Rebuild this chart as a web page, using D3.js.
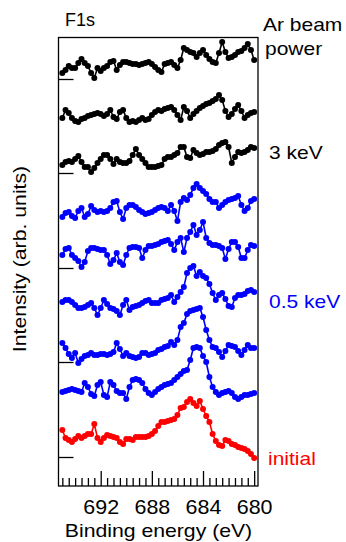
<!DOCTYPE html>
<html>
<head>
<meta charset="utf-8">
<script src="https://cdn.jsdelivr.net/npm/d3@7"></script>
<style>
  body { margin: 0; background: #fff; }
  text { font-family: "Liberation Sans", Arial, sans-serif; }
</style>
</head>
<body>
<div id="chart"></div>
<script>
var W = 346, H = 542;
var margin = {top: 37.5, right: 88, bottom: 56, left: 58.5};

/* energies sampled every 0.25 eV, high to low */
var energies = d3.range(61).map(function(i) { return 695 - i * 0.25; });

/* stacked intensities (arb. units, offsets included), top trace first */
var ar3a = [413,416,420,418,418,423,427,423,420,413,408,418,415,418,420,424,425,416,421,424,424,423,422,422,421,422,423,424,422,419,416,414,422,423,424,421,418,426,438,436,434,433,429,433,436,431,427,424,423,433,444,434,428,429,431,434,435,438,442,436,426];
var ar3b = [368,376,373,368,365,364,367,368,370,371,372,373,372,370,372,376,369,367,374,376,368,364,365,364,366,368,366,367,371,374,376,375,377,378,379,376,371,366,379,375,368,372,375,378,380,382,383,385,387,391,386,375,369,372,377,381,375,368,371,373,374];
var ar3c = [321,324,325,324,327,330,324,319,319,314,318,323,327,331,331,327,322,327,324,323,323,325,331,337,331,327,323,319,319,319,320,321,327,329,329,331,333,339,339,329,328,336,333,331,332,334,334,335,337,341,343,344,339,323,329,334,333,334,336,339,338];
var ar05a = [269,273,274,270,268,275,278,269,272,280,276,274,275,274,275,278,284,285,274,267,278,281,281,279,276,274,272,273,274,276,278,279,278,275,281,275,265,284,288,286,291,298,302,298,295,292,287,284,284,278,281,284,286,287,288,290,281,275,278,285,287];
var ar05b = [231,237,238,231,228,225,219,224,235,238,238,237,236,236,231,222,226,233,224,221,231,238,239,239,238,228,236,240,240,241,242,244,245,246,242,236,244,248,234,248,254,261,251,256,264,248,243,241,241,240,238,227,237,244,244,239,228,228,236,241,240];
var ar05c = [184,186,186,184,181,178,178,179,181,183,178,171,178,186,182,178,177,175,171,181,186,176,179,180,181,183,185,186,183,183,183,186,187,188,191,184,189,194,199,213,218,220,210,214,210,208,202,193,186,191,193,187,180,179,188,191,191,192,195,196,194];
var ar05d = [143,138,132,128,133,123,127,130,131,133,131,131,132,132,131,132,134,143,137,130,133,130,129,128,129,133,133,131,132,133,136,137,139,140,144,141,146,159,163,172,175,176,177,178,169,156,146,139,138,134,129,135,141,140,139,135,131,136,141,138,138];
var ar05e = [94,95,96,97,96,95,94,103,99,92,90,101,104,91,89,104,101,95,93,93,87,99,106,107,106,103,97,93,91,94,97,99,101,102,103,106,109,112,115,116,126,138,139,138,130,124,109,99,94,91,93,94,95,93,89,87,89,91,91,92,93];
var initial = [56,48,46,44,47,50,48,50,52,52,62,48,44,48,51,50,49,48,44,42,47,47,46,49,49,49,49,50,52,55,60,64,64,65,66,67,71,78,79,84,87,83,80,85,77,70,64,52,45,41,40,46,45,42,41,39,38,37,35,32,28];

var series = [ar3a, ar3b, ar3c, ar05a, ar05b, ar05c, ar05d, ar05e, initial];
var seriesColors = ["#000","#000","#000","#0000ff","#0000ff","#0000ff","#0000ff","#0000ff","#ff0000"];

var yTicks = [29, 124, 218, 313, 407];
var xMajor = [692, 688, 684, 680];

var width = W - margin.left - margin.right,
    height = H - margin.top - margin.bottom;

var svg = d3.select("#chart").append("svg").attr("width", W).attr("height", H);
var g = svg.append("g").attr("transform", "translate(" + margin.left + "," + margin.top + ")");

var x = d3.scaleLinear().domain([695.3, 679.7]).range([0, width]);
var y = d3.scaleLinear().domain([0, 448.5]).range([height, 0]);

/* minor ticks every 0.5 eV */
var minor = d3.range(680, 695.01, 0.5).filter(function(d) { return xMajor.indexOf(d) < 0; });
g.append("g")
    .attr("transform", "translate(0," + height + ")")
    .call(d3.axisBottom(x).tickValues(minor).tickSize(-8).tickFormat(""))
    .call(function(a) { a.select(".domain").remove(); });

g.append("g")
    .attr("class", "xaxis")
    .attr("transform", "translate(0," + height + ")")
    .call(d3.axisBottom(x).tickValues(xMajor).tickSize(-15).tickPadding(14).tickFormat(d3.format("d")))
    .call(function(a) {
      a.select(".domain").remove();
      a.selectAll("text")
          .attr("font-size", 19.5).attr("fill", "#000")
          .attr("font-family", "Liberation Sans, Arial, sans-serif")
          .attr("transform", "scale(1.1,1)");
    });

g.append("g")
    .call(d3.axisLeft(y).tickValues(yTicks).tickSize(-15).tickFormat(""))
    .call(function(a) { a.select(".domain").remove(); });

g.selectAll(".tick line").attr("stroke", "#000").attr("stroke-width", 1.3);

/* frame */
g.append("rect")
    .attr("width", width).attr("height", height)
    .attr("fill", "none").attr("stroke", "#000").attr("stroke-width", 1.3);

var line = d3.line()
    .x(function(d, i) { return x(energies[i]); })
    .y(function(d) { return y(d); });

series.forEach(function(s, k) {
  var c = seriesColors[k];
  g.append("path").datum(s)
      .attr("d", line).attr("fill", "none")
      .attr("stroke", c).attr("stroke-width", 1.6);
  g.selectAll(".pt" + k).data(s).enter().append("circle")
      .attr("cx", function(d, i) { return x(energies[i]); })
      .attr("cy", function(d) { return y(d); })
      .attr("r", 3)
      .attr("fill", c);
});

/* text drawn a bit wide, like the original figure */
function label(txt, px, py, size, sx, color, anchor) {
  return svg.append("text")
      .attr("transform", "translate(" + px + "," + py + ") scale(" + sx + ",1)")
      .attr("font-size", size)
      .attr("fill", color || "#000")
      .attr("text-anchor", anchor || "start")
      .text(txt);
}

label("F1s", 65, 26, 18, 1);
label("Ar beam", 263, 31, 17.5, 1.2);
label("power", 265, 55, 17.5, 1.2);
label("3 keV", 269, 159, 17.5, 1.2);
label("0.5 keV", 269, 308, 17.5, 1.2, "#0000ff");
label("initial", 268, 465, 17.5, 1.2, "#ff0000");
label("Binding energy (eV)", 158.5, 537, 18.6, 1.14, "#000", "middle");

svg.append("text")
    .attr("transform", "translate(26,259) rotate(-90) scale(1.18,1)")
    .attr("text-anchor", "middle")
    .attr("font-size", 18)
    .text("Intensity (arb. units)");
</script>
</body>
</html>
